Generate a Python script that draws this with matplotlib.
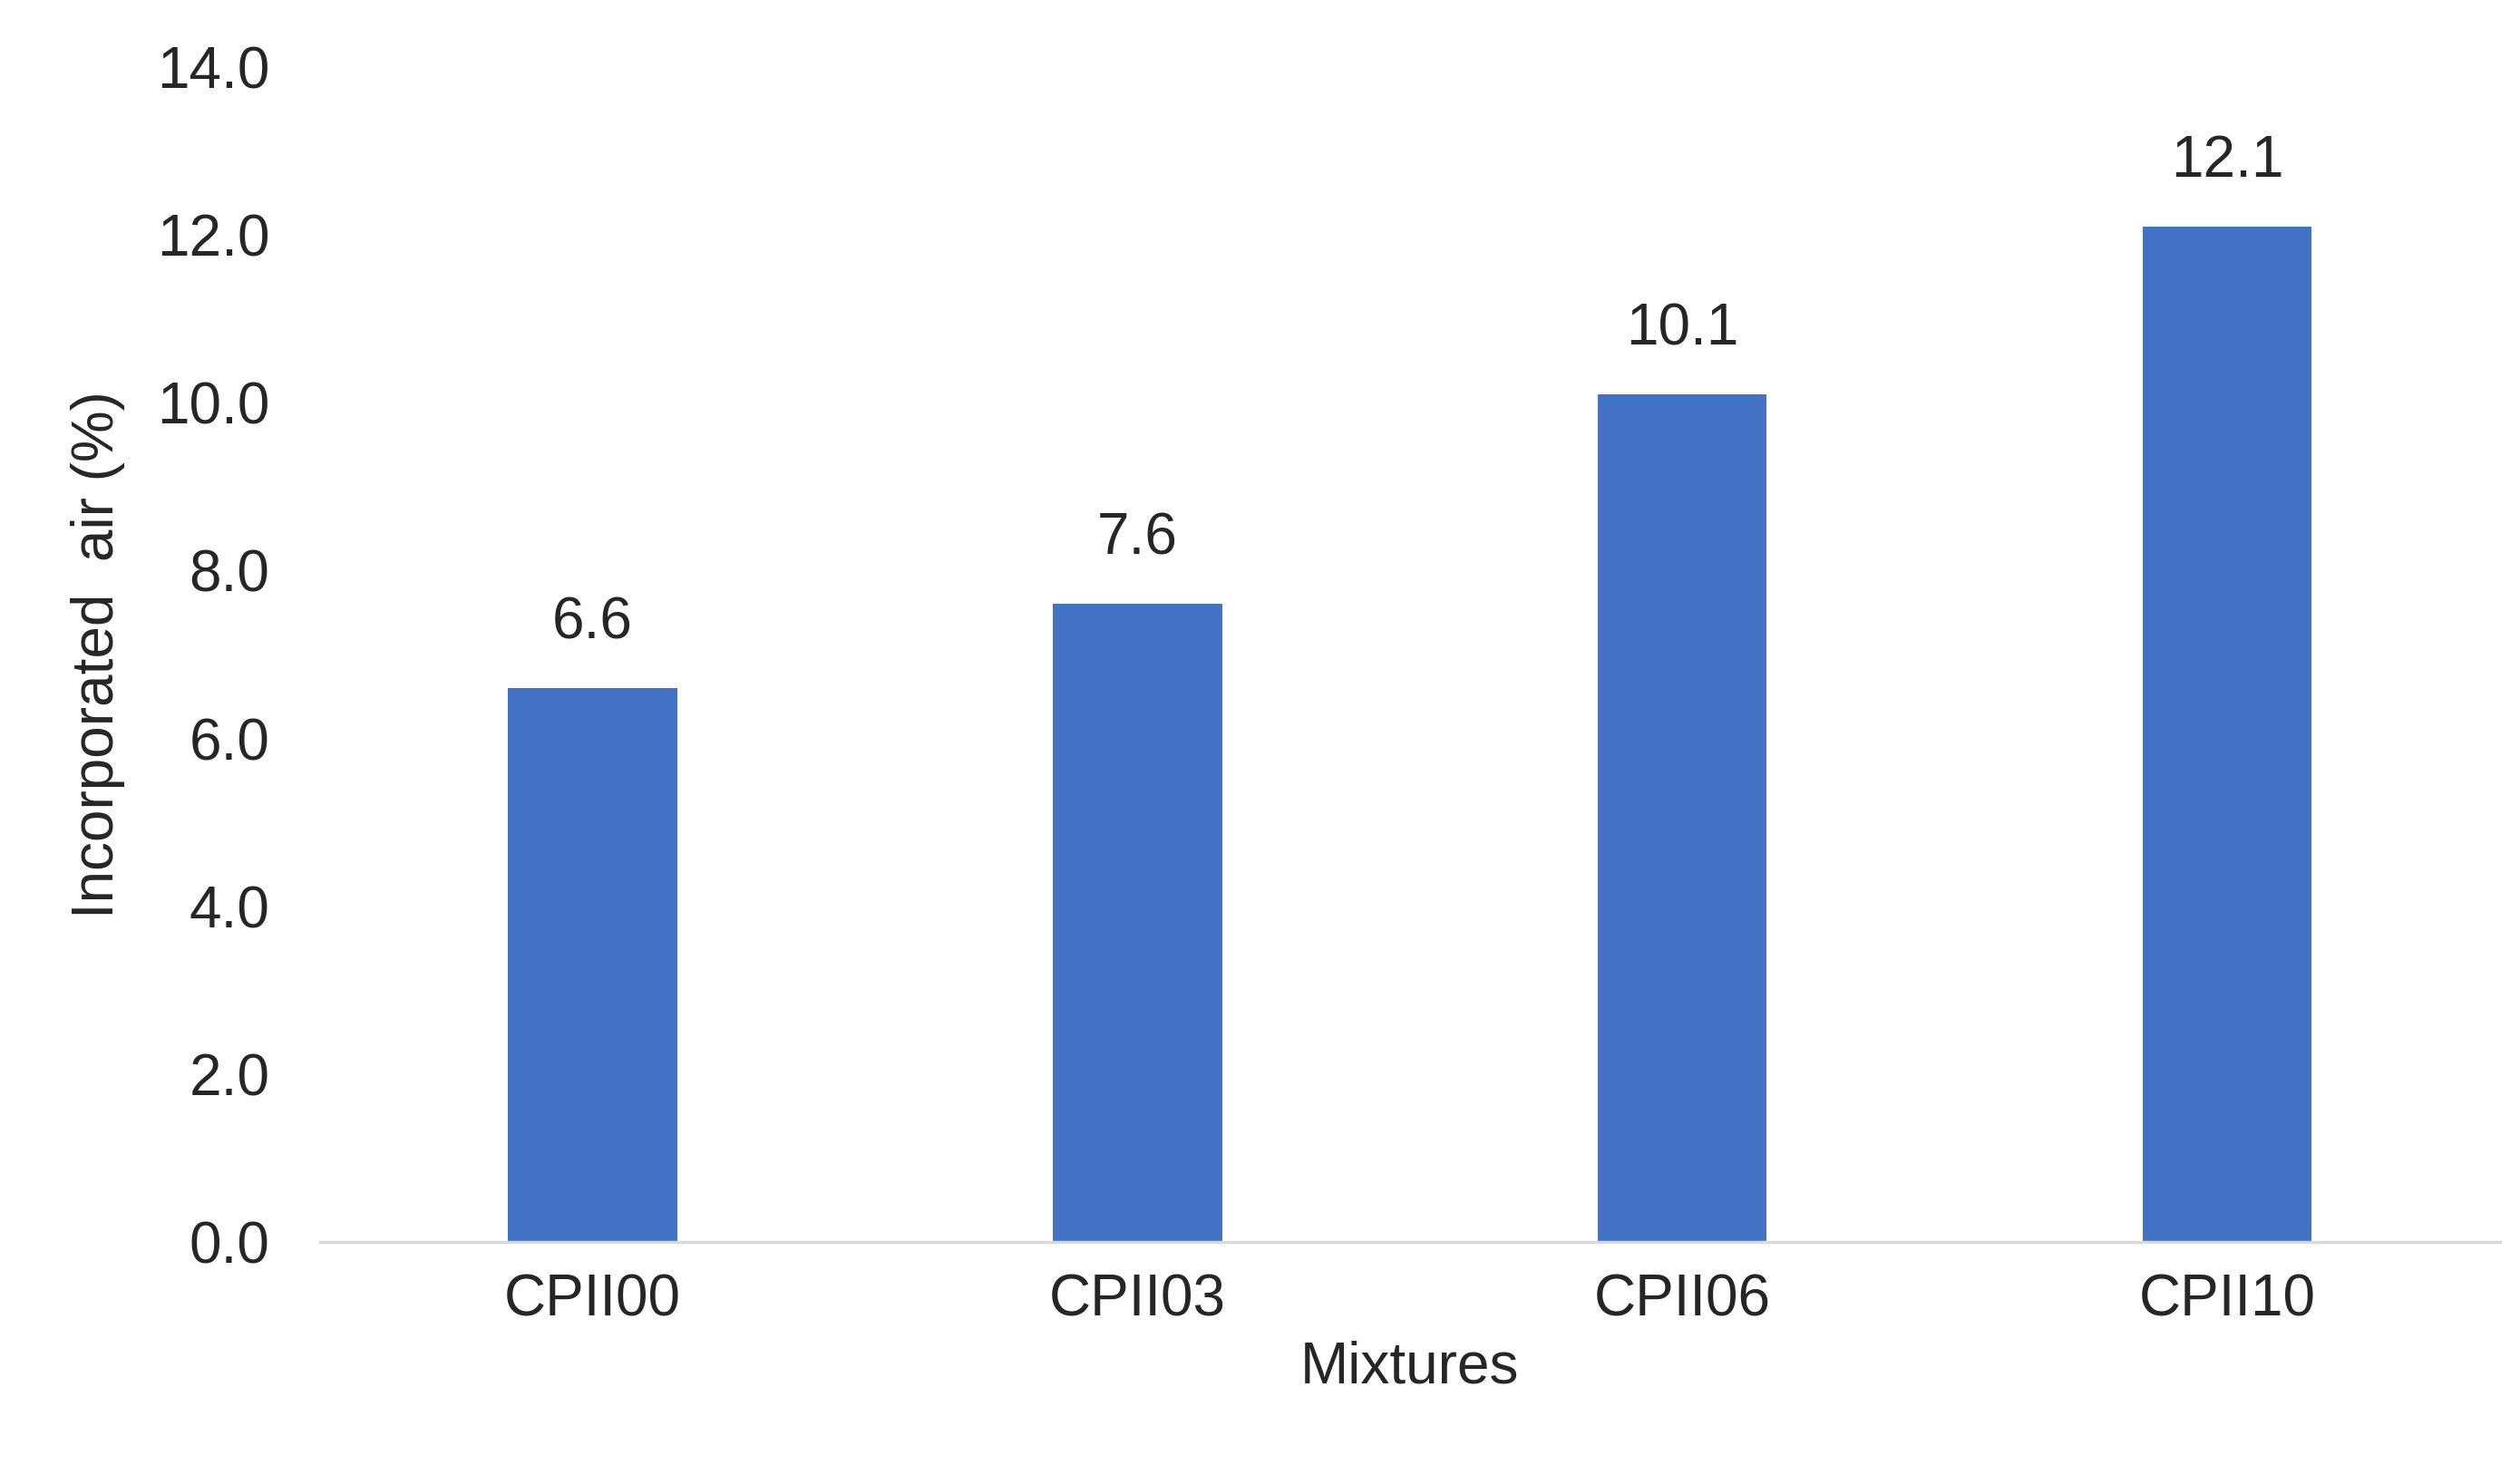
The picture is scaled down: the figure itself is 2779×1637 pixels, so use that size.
import matplotlib
matplotlib.use("Agg")
import matplotlib.pyplot as plt

categories = ["CPII00", "CPII03", "CPII06", "CPII10"]
values = [6.6, 7.6, 10.1, 12.1]
yticks = [0, 2, 4, 6, 8, 10, 12, 14]

plt.rcParams['font.family'] = ['Liberation Sans', 'DejaVu Sans']
fig = plt.figure(figsize=(27.79, 16.37), dpi=100)
ax = fig.add_axes([0.127, 0.163, 0.865, 0.792])
x = range(len(categories))
bars = ax.bar(x, values, width=0.31, color='#4472C4')
for xi, v in zip(x, values):
    ax.text(xi, v + 0.45, f"{v:.1f}", ha='center', va='bottom', fontsize=46, color='#262626')
ax.set_xlim(-0.5, 3.5)
ax.set_ylim(0, 14)
ax.set_yticks(yticks)
ax.set_yticklabels([f"{t:.1f}" for t in yticks])
ax.set_xticks(list(x))
ax.set_xticklabels(categories)
ax.tick_params(axis='both', labelsize=46, labelcolor='#262626', length=0)
ax.tick_params(axis='x', pad=25)
ax.tick_params(axis='y', pad=40)
for s in ['top', 'right', 'left']:
    ax.spines[s].set_visible(False)
ax.spines['bottom'].set_color('#d9d9d9')
ax.spines['bottom'].set_linewidth(2.5)
ax.set_xlabel("Mixtures", fontsize=46, color='#262626', labelpad=10)
ax.set_ylabel("Incorporated  air (%)", fontsize=46, color='#262626', labelpad=25)
fig.savefig("out.png", dpi=100)
